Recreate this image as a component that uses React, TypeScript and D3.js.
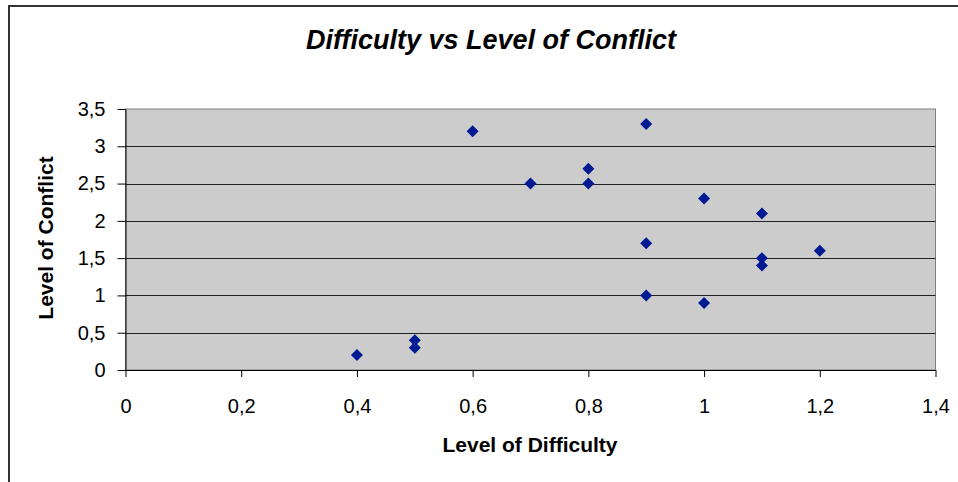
import React, { useRef, useEffect } from 'react';
import * as d3 from 'd3';

const difficulty = [0.4, 0.5, 0.5, 0.6, 0.7, 0.8, 0.8, 0.9, 0.9, 0.9, 1.0, 1.0, 1.1, 1.1, 1.1, 1.2];
const conflict = [0.2, 0.4, 0.3, 3.2, 2.5, 2.7, 2.5, 3.3, 1.7, 1.0, 2.3, 0.9, 2.1, 1.5, 1.4, 1.6];
const xTicks = [0, 0.2, 0.4, 0.6, 0.8, 1, 1.2, 1.4];
const yTicks = [0, 0.5, 1, 1.5, 2, 2.5, 3, 3.5];

const width = 958;
const height = 482;

const fmt = (v: number) => String(v).replace('.', ',');

const App = () => {
  const ref = useRef<SVGSVGElement>(null);

  useEffect(() => {
    const svg = d3.select(ref.current);
    svg.selectAll('*').remove();

    const left = 125.5, right = 935.5, top = 109, bottom = 370;
    const x = d3.scaleLinear([0, 1.4], [left, right]);
    const y = d3.scaleLinear([0, 3.5], [bottom, top]);
    const font = 'Arial, "Liberation Sans", sans-serif';

    // outer chart border (runs off the page on right and bottom)
    svg.append('rect')
      .attr('x', 9).attr('y', 6)
      .attr('width', width + 20).attr('height', height + 20)
      .attr('fill', 'white').attr('stroke', '#333').attr('stroke-width', 2);

    svg.append('text')
      .attr('x', 491).attr('y', 49)
      .attr('text-anchor', 'middle')
      .attr('font-family', font).attr('font-size', 27)
      .attr('font-weight', 'bold').attr('font-style', 'italic')
      .text('Difficulty vs Level of Conflict');

    // plot area
    svg.append('rect')
      .attr('x', left).attr('y', top)
      .attr('width', right - left).attr('height', bottom - top)
      .attr('fill', '#cccccc').attr('stroke', '#808080').attr('stroke-width', 1);

    // gridlines
    svg.append('g')
      .selectAll('line')
      .data(yTicks.filter(t => t > 0 && t < 3.5))
      .join('line')
      .attr('x1', left).attr('x2', right)
      .attr('y1', d => Math.round(y(d)) + 0.5).attr('y2', d => Math.round(y(d)) + 0.5)
      .attr('stroke', '#222').attr('stroke-width', 1);

    const yAxis = d3.axisLeft(y).tickValues(yTicks).tickSize(8).tickSizeOuter(0).tickPadding(12).tickFormat(d => fmt(+d));
    svg.append('g')
      .attr('transform', `translate(${left},0)`)
      .call(yAxis)
      .call(g => g.select('.domain').attr('stroke', '#000'))
      .call(g => g.selectAll('text').attr('font-family', font).attr('font-size', 20).attr('fill', '#000'));

    const xAxis = d3.axisBottom(x).tickValues(xTicks).tickSize(7).tickSizeOuter(0).tickPadding(22).tickFormat(d => fmt(+d));
    svg.append('g')
      .attr('transform', `translate(0,${bottom})`)
      .call(xAxis)
      .call(g => g.select('.domain').attr('stroke', '#000'))
      .call(g => g.selectAll('text').attr('font-family', font).attr('font-size', 20).attr('fill', '#000'));

    svg.append('text')
      .attr('x', 530).attr('y', 452)
      .attr('text-anchor', 'middle')
      .attr('font-family', font).attr('font-size', 21).attr('font-weight', 'bold')
      .text('Level of Difficulty');

    svg.append('text')
      .attr('transform', `translate(53,238) rotate(-90)`)
      .attr('text-anchor', 'middle')
      .attr('font-family', font).attr('font-size', 21).attr('font-weight', 'bold')
      .text('Level of Conflict');

    const diamond = d3.symbol(d3.symbolSquare, 72)();
    svg.append('g')
      .selectAll('path')
      .data(d3.range(difficulty.length))
      .join('path')
      .attr('d', diamond)
      .attr('transform', i => `translate(${x(difficulty[i])},${y(conflict[i])}) rotate(45)`)
      .attr('fill', '#001a94');
  }, []);

  return (
    <svg ref={ref} width={width} height={height}
      style={{ position: 'absolute', left: 0, top: 0, background: 'white' }} />
  );
};

export default App;
